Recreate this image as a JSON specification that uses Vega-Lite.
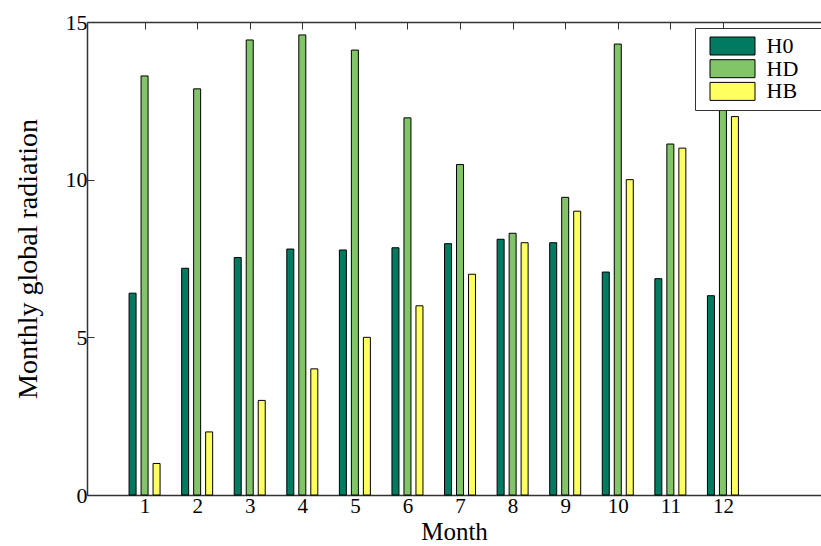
{
  "$schema": "https://vega.github.io/schema/vega-lite/v6.json",
  "autosize": "none",
  "width": 734,
  "height": 473,
  "padding": {"left": 87, "top": 22, "right": 0, "bottom": 51},
  "background": "white",
  "config": {
    "view": {"stroke": null},
    "font": "Liberation Serif",
    "axis": {
      "domainColor": "#333333",
      "tickColor": "#333333",
      "labelColor": "black",
      "titleColor": "black",
      "labelFont": "Liberation Serif",
      "titleFont": "Liberation Serif",
      "titleFontWeight": "normal",
      "grid": false
    }
  },
  "data": {
    "values": [
      {"Month": 1, "Series": "H0", "Value": 6.40},
      {"Month": 2, "Series": "H0", "Value": 7.19},
      {"Month": 3, "Series": "H0", "Value": 7.53},
      {"Month": 4, "Series": "H0", "Value": 7.80},
      {"Month": 5, "Series": "H0", "Value": 7.77},
      {"Month": 6, "Series": "H0", "Value": 7.84},
      {"Month": 7, "Series": "H0", "Value": 7.97},
      {"Month": 8, "Series": "H0", "Value": 8.11},
      {"Month": 9, "Series": "H0", "Value": 8.00},
      {"Month": 10, "Series": "H0", "Value": 7.07},
      {"Month": 11, "Series": "H0", "Value": 6.86},
      {"Month": 12, "Series": "H0", "Value": 6.32},
      {"Month": 1, "Series": "HD", "Value": 13.29},
      {"Month": 2, "Series": "HD", "Value": 12.88},
      {"Month": 3, "Series": "HD", "Value": 14.43},
      {"Month": 4, "Series": "HD", "Value": 14.59},
      {"Month": 5, "Series": "HD", "Value": 14.11},
      {"Month": 6, "Series": "HD", "Value": 11.96},
      {"Month": 7, "Series": "HD", "Value": 10.48},
      {"Month": 8, "Series": "HD", "Value": 8.30},
      {"Month": 9, "Series": "HD", "Value": 9.44},
      {"Month": 10, "Series": "HD", "Value": 14.30},
      {"Month": 11, "Series": "HD", "Value": 11.13},
      {"Month": 12, "Series": "HD", "Value": 13.5},
      {"Month": 1, "Series": "HB", "Value": 1.0},
      {"Month": 2, "Series": "HB", "Value": 2.0},
      {"Month": 3, "Series": "HB", "Value": 3.0},
      {"Month": 4, "Series": "HB", "Value": 4.0},
      {"Month": 5, "Series": "HB", "Value": 5.0},
      {"Month": 6, "Series": "HB", "Value": 6.0},
      {"Month": 7, "Series": "HB", "Value": 7.0},
      {"Month": 8, "Series": "HB", "Value": 8.0},
      {"Month": 9, "Series": "HB", "Value": 9.0},
      {"Month": 10, "Series": "HB", "Value": 10.0},
      {"Month": 11, "Series": "HB", "Value": 11.0},
      {"Month": 12, "Series": "HB", "Value": 12.0}
    ]
  },
  "encoding": {
    "y": {
      "field": "Value",
      "type": "quantitative",
      "scale": {"domain": [0, 15], "nice": false, "zero": true},
      "axis": {
        "values": [0, 5, 10, 15],
        "title": "Monthly  global radiation",
        "titleFontSize": 28,
        "titlePadding": 23,
        "labelFontSize": 22,
        "labelPadding": 7,
        "tickSize": -7,
        "domainWidth": 1.5
      }
    },
    "color": {
      "field": "Series",
      "type": "nominal",
      "scale": {"domain": ["H0", "HD", "HB"], "range": ["#007b61", "#82c468", "#ffff60"]},
      "legend": {
        "orient": "none",
        "legendX": 608,
        "legendY": 6,
        "title": null,
        "symbolType": "M-2.5,-1H2.5V1H-2.5Z",
        "symbolSize": 324,
        "symbolOffset": 19.5,
        "symbolStrokeColor": "black",
        "symbolStrokeWidth": 1,
        "symbolOpacity": 1,
        "labelFont": "Liberation Serif",
        "labelFontSize": 22,
        "labelColor": "black",
        "labelOffset": 23,
        "labelLimit": 300,
        "padding": 7,
        "rowPadding": 0.7,
        "strokeColor": "#333333",
        "fillColor": "white",
        "labelExpr": "datum.label + '\u00a0\u00a0\u00a0\u00a0\u200b'"
      }
    }
  },
  "layer": [
    {
      "transform": [{"filter": "datum.Series === 'H0'"}],
      "mark": {"type": "bar", "width": 7, "xOffset": -12, "stroke": "black", "strokeWidth": 1},
      "encoding": {
        "x": {
          "field": "Month",
          "type": "quantitative",
          "scale": {"domain": [0, 13.77], "nice": false, "zero": false},
          "axis": {
            "orient": "bottom",
            "values": [1, 2, 3, 4, 5, 6, 7, 8, 9, 10, 11, 12],
            "title": "Month",
            "titleFontSize": 25,
            "titlePadding": 3,
            "labelFontSize": 21,
            "labelPadding": 7,
            "tickSize": -7,
            "domainWidth": 1.5
          }
        }
      }
    },
    {
      "transform": [{"filter": "datum.Series === 'HD'"}],
      "mark": {"type": "bar", "width": 7, "xOffset": 0, "stroke": "black", "strokeWidth": 1},
      "encoding": {
        "x": {
          "field": "Month",
          "type": "quantitative",
          "scale": {"domain": [0, 13.77], "nice": false, "zero": false},
          "axis": {
            "orient": "top",
            "values": [1, 2, 3, 4, 5, 6, 7, 8, 9, 10, 11, 12],
            "title": null,
            "labels": false,
            "tickSize": -7,
            "domainWidth": 1.5
          }
        }
      }
    },
    {
      "transform": [{"filter": "datum.Series === 'HB'"}],
      "mark": {"type": "bar", "width": 7, "xOffset": 12, "stroke": "black", "strokeWidth": 1},
      "encoding": {
        "x": {
          "field": "Month",
          "type": "quantitative",
          "scale": {"domain": [0, 13.77], "nice": false, "zero": false},
          "axis": null
        }
      }
    }
  ],
  "resolve": {"axis": {"x": "independent"}}
}
